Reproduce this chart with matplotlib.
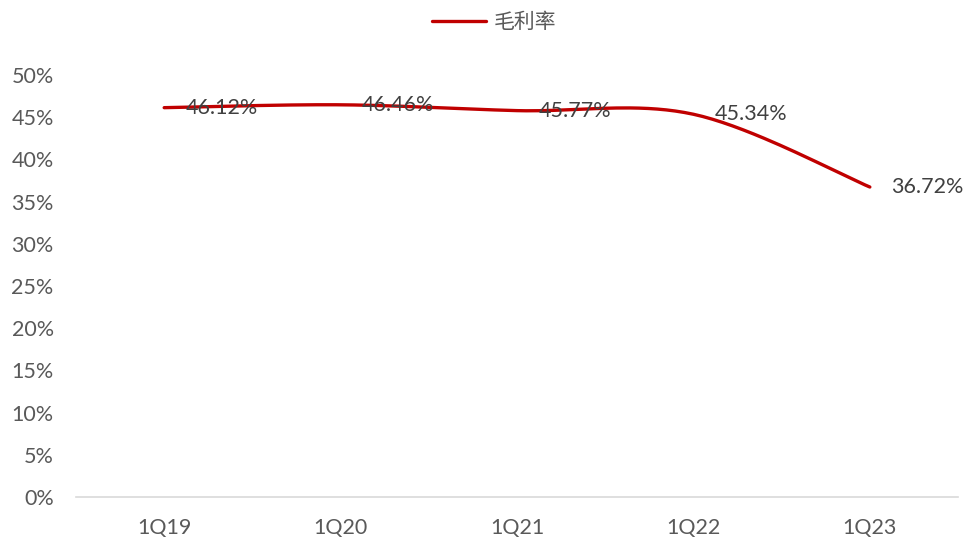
import numpy as np
import matplotlib
matplotlib.use("Agg")
import matplotlib.pyplot as plt
from matplotlib.ticker import PercentFormatter

plt.rcParams['font.family'] = ['Lato', 'Noto Sans CJK SC', 'DejaVu Sans']

quarters = ['1Q19', '1Q20', '1Q21', '1Q22', '1Q23']
gross_margin = [46.12, 46.46, 45.77, 45.34, 36.72]
series_name = '毛利率'

line_color = '#C00000'
text_color = '#595959'


def smooth_curve(x, y, steps=40):
    # Bezier segments with Catmull-Rom style control points (spreadsheet "smoothed line")
    x = np.asarray(x, float)
    y = np.asarray(y, float)
    n = len(x)
    xs, ys = [], []
    for i in range(n - 1):
        p0 = np.array([x[max(i - 1, 0)], y[max(i - 1, 0)]])
        p1 = np.array([x[i], y[i]])
        p2 = np.array([x[i + 1], y[i + 1]])
        p3 = np.array([x[min(i + 2, n - 1)], y[min(i + 2, n - 1)]])
        c1 = p1 + (p2 - p0) / 6
        c2 = p2 - (p3 - p1) / 6
        t = np.linspace(0, 1, steps)[:, None]
        pts = ((1 - t) ** 3) * p1 + 3 * ((1 - t) ** 2) * t * c1 + 3 * (1 - t) * t ** 2 * c2 + t ** 3 * p2
        xs.append(pts[:, 0])
        ys.append(pts[:, 1])
    return np.concatenate(xs), np.concatenate(ys)


fig = plt.figure(figsize=(9.69, 5.39), dpi=100)
ax = fig.add_axes([0.0784, 0.078, 0.9103, 0.783])

xpos = np.arange(len(quarters))
sx, sy = smooth_curve(xpos, gross_margin)
ax.plot(sx, sy, color=line_color, linewidth=2.4, solid_capstyle='round', label=series_name)

for xi, v in zip(xpos, gross_margin):
    ax.annotate(f'{v:.2f}%', (xi, v), xytext=(15.5, 0), textcoords='offset points',
                ha='left', va='center', fontsize=15.5, color='#404040')

ax.set_xlim(-0.5, len(quarters) - 0.5)
ax.set_ylim(0, 50)
ax.set_yticks(np.arange(0, 51, 5))
ax.yaxis.set_major_formatter(PercentFormatter(decimals=0))
ax.set_xticks(xpos)
ax.set_xticklabels(quarters)

for side in ['top', 'right', 'left']:
    ax.spines[side].set_visible(False)
ax.spines['bottom'].set_color('#D9D9D9')
ax.spines['bottom'].set_linewidth(1.2)
ax.tick_params(axis='both', length=0, labelsize=15.5, colors=text_color)
ax.tick_params(axis='x', pad=15)
ax.tick_params(axis='y', pad=16)

leg = ax.legend(loc='lower center', bbox_to_anchor=(0.474, 1.055), frameon=False,
                handlelength=2.6, handletextpad=0.4, prop={'family': 'Noto Sans CJK SC', 'size': 15})
for t in leg.get_texts():
    t.set_color(text_color)

fig.savefig('out.png', dpi=100)
